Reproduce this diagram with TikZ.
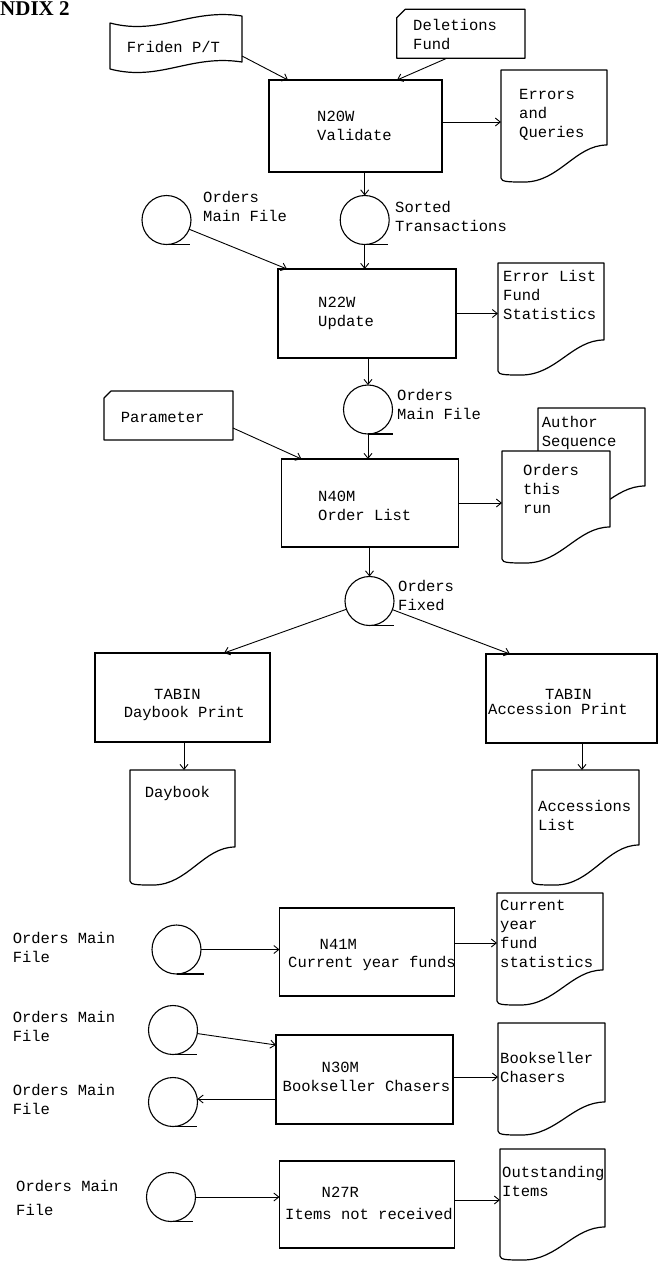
\documentclass[tikz,border=0pt]{standalone}
\usepackage{fontspec}
\newfontfamily\dotfont{Liberation Mono}
\newfontfamily\headfont{Liberation Serif}
\usetikzlibrary{arrows.meta,calc}

\tikzset{
  outline/.style={line width=1.2pt, line join=round},
  procbox/.style={draw, rectangle, line width=1.2pt, inner sep=0pt, outer sep=0pt},
  area/.style={rectangle, inner sep=0pt, outer sep=0pt},
  reel/.style={draw, circle, line width=1.1pt, minimum size=49pt, inner sep=0pt, outer sep=0pt},
  flow/.style={line width=0.9pt, -{Straight Barb[length=5pt,width=8pt]}},
  % multi-line labels are anchored at the baseline of their last line
  lbl/.style={font=\dotfont\fontsize{15.5}{19}\selectfont, align=left, anchor=base west, inner sep=0pt},
}

% tape reel: circle plus the short tangent at the bottom
\newcommand\reeltail[2]{\draw[outline] (#1.south) -- ++(#2,0);}
% printed document: name, width, rise of the lower right corner
\newcommand\docshape[3]{%
  \draw[outline, fill=white] ($(#1.south west)+(0,-4)$) -- (#1.north west) -- (#1.north east)
    -- ($(#1.south east)+(0,-#3)$)
    .. controls ($(#1.south east)+(-0.3*#2,-#3)$) and ($(#1.south west)+(0.55*#2,0)$)
    .. ($(#1.south west)+(0.22*#2,0)$)
    .. controls ($(#1.south west)+(0.08*#2,0)$) and (#1.south west) .. cycle;}
% punched card: name, size of the cut corner
\newcommand\cardshape[2]{%
  \draw[outline] ($(#1.north west)+(0,#2)$) -- ($(#1.north west)+(#2,0)$) -- (#1.north east)
    -- (#1.south east) -- (#1.south west) -- cycle;}

\begin{document}
\begin{tikzpicture}[x=1pt,y=-1pt]
\useasboundingbox (0,0) rectangle (659,1262);

\node[font=\headfont\bfseries\fontsize{21}{21}\selectfont, anchor=base west, inner sep=0pt] (head) at (0,15) {NDIX 2};

% ---------- inputs ----------
\node[area, minimum width=132pt, minimum height=54pt] (friden) at (176,43) {};
\draw[outline] ($(friden.north west)+(0,7)$)
   .. controls ($(friden.north west)+(50,20)$) and ($(friden.north west)+(80,-8)$) .. (friden.north east)
   -- ($(friden.south east)+(0,-8)$)
   .. controls ($(friden.south east)+(-52,-16)$) and ($(friden.south east)+(-82,12)$) .. ($(friden.south west)+(0,-1)$)
   -- cycle;
\node[lbl] (fridenT) at (126.7,52.5) {Friden P/T};

\node[area, minimum width=128.3pt, minimum height=49pt] (del) at (460.85,33.8) {};
\cardshape{del}{8.5}
\node[lbl] (delT) at (413,49.5) {Deletions\\Fund};

\node[area, minimum width=129pt, minimum height=49pt] (param) at (168.5,415.5) {};
\cardshape{param}{7}
\node[lbl] (paramT) at (120.6,422.5) {Parameter};

% ---------- processes ----------
\node[procbox, minimum width=173pt, minimum height=92pt] (val) at (355.5,126) {};
\node[lbl] (valT) at (317,140.5) {N20W\\Validate};
\node[procbox, minimum width=178pt, minimum height=89pt] (upd) at (367,313.5) {};
\node[lbl] (updT) at (318,326.5) {N22W\\Update};
\node[procbox, minimum width=177pt, minimum height=88pt] (olist) at (370,503) {};
\node[lbl] (olistT) at (318,520.5) {N40M\\Order List};
\node[procbox, minimum width=175pt, minimum height=89pt] (dayp) at (182.5,697.5) {};
\node[lbl] (daypA) at (154,699.5) {TABIN};
\node[lbl] (daypB) at (123.6,717.5) {Daybook Print};
\node[procbox, minimum width=171pt, minimum height=89pt] (accp) at (571.5,698.5) {};
\node[lbl] (accpA) at (545,699.5) {TABIN};
\node[lbl] (accpB) at (488,714.5) {Accession Print};
\node[procbox, minimum width=175pt, minimum height=88pt] (nfund) at (367,952) {};
\node[lbl] (nfundA) at (319.5,949.5) {N41M};
\node[lbl] (nfundB) at (288,967.5) {Current year funds};
\node[procbox, minimum width=177pt, minimum height=89pt] (nchase) at (364.5,1079.5) {};
\node[lbl] (nchaseA) at (321.5,1072.5) {N30M};
\node[lbl] (nchaseB) at (282.5,1091.5) {Bookseller Chasers};
\node[procbox, minimum width=175pt, minimum height=87pt] (nrecv) at (367,1204.5) {};
\node[lbl] (nrecvA) at (321.5,1197.5) {N27R};
\node[lbl] (nrecvB) at (285,1219.5) {Items not received};

% ---------- tape files ----------
\node[reel] (omfA) at (166.5,220) {};   \reeltail{omfA}{23}
\node[lbl] (omfAT) at (203,221.5) {Orders\\Main File};
\node[reel] (sorted) at (364.7,220) {};  \reeltail{sorted}{23}
\node[lbl] (sortedT) at (395,231.5) {Sorted\\Transactions};
\node[reel] (omfB) at (368,409.5) {};    \reeltail{omfB}{25}
\node[lbl] (omfBT) at (397,419.5) {Orders\\Main File};
\node[reel] (fixed) at (369.5,601) {};   \reeltail{fixed}{24}
\node[lbl] (fixedT) at (398,610.5) {Orders\\Fixed};
\node[reel] (omfC) at (176.5,949.5) {};  \reeltail{omfC}{27}
\node[lbl] (omfCT) at (12.6,962.5) {Orders Main\\File};
\node[reel] (omfD) at (173,1030) {};     \reeltail{omfD}{24}
\node[lbl] (omfDT) at (12.6,1041.5) {Orders Main\\File};
\node[reel] (omfE) at (173,1102) {};     \reeltail{omfE}{24}
\node[lbl] (omfET) at (12.6,1114.5) {Orders Main\\File};
\node[reel] (omfF) at (171,1197) {};     \reeltail{omfF}{22}
\node[lbl] (omfFT) at (16,1215.5) {Orders Main\\[5pt]File};

% ---------- printed output ----------
\node[area, minimum width=106pt, minimum height=112pt] (err) at (554,126) {};
\docshape{err}{106}{37}
\node[lbl] (errT) at (519,137.5) {Errors\\and\\Queries};
\node[area, minimum width=106pt, minimum height=112pt] (errlist) at (551,319) {};
\docshape{errlist}{106}{35}
\node[lbl] (errlistT) at (503,319.5) {Error List\\Fund\\Statistics};
\node[area, minimum width=107pt, minimum height=112pt] (author) at (591.5,464) {};
\docshape{author}{107}{34}
\node[lbl] (authorT) at (541.7,446.5) {Author\\Sequence};
\node[area, minimum width=108pt, minimum height=112pt] (ordrun) at (556,507) {};
\docshape{ordrun}{108}{36}
\node[lbl] (ordrunT) at (523,513) {Orders\\this\\run};
\node[area, minimum width=105pt, minimum height=115pt] (daybk) at (182.5,827.5) {};
\docshape{daybk}{105}{38}
\node[lbl] (daybkT) at (144.6,797.5) {Daybook};
\node[area, minimum width=107pt, minimum height=115pt] (accl) at (585.5,827.5) {};
\docshape{accl}{107}{40}
\node[lbl] (acclT) at (538,830) {Accessions\\List};
\node[area, minimum width=106pt, minimum height=112pt] (cyr) at (550,949) {};
\docshape{cyr}{106}{35}
\node[lbl] (cyrT) at (500,967.5) {Current\\year\\fund\\statistics};
\node[area, minimum width=107pt, minimum height=112pt] (bsel) at (551.5,1079) {};
\docshape{bsel}{107}{33}
\node[lbl] (bselT) at (500,1082.5) {Bookseller\\Chasers};
\node[area, minimum width=105pt, minimum height=111pt] (outst) at (552.5,1204.5) {};
\docshape{outst}{105}{33}
\node[lbl] (outstT) at (502,1196.5) {Outstanding\\Items};

% ---------- flow ----------
\draw[flow] ($(friden.south east)+(0,-14)$) -- ($(val.north west)+(19,0)$);
\draw[flow] ($(del.south west)+(50,0)$) -- ($(val.north west)+(128,0)$);
\draw[flow] ($(val.east)+(0,-4)$) coordinate (p) -- (p -| err.west);
\draw[flow] (sorted |- val.south) -- (sorted.north);

\draw[flow] (omfA) -- ($(upd.north west)+(9,0)$);
\draw[flow] (sorted.south) -- (sorted |- upd.north);
\draw[flow] (upd.east) -- (upd.east -| errlist.west);
\draw[flow] (omfB |- upd.south) -- (omfB.north);

\draw[flow] ($(param.south east)+(0,-12)$) -- ($(olist.north west)+(20,0)$);
\draw[flow] (omfB.south) -- (omfB |- olist.north);
\draw[flow] (olist.east) -- (olist.east -| ordrun.west);
\draw[flow] (fixed |- olist.south) -- (fixed.north);

\draw[flow] (fixed) -- ($(dayp.north west)+(129,0)$);
\draw[flow] (fixed) -- ($(accp.north west)+(24,0)$);
\draw[flow] ($(dayp.south west)+(89,0)$) coordinate (p) -- (p |- daybk.north);
\draw[flow] ($(accp.south west)+(96,0)$) coordinate (p) -- (p |- accl.north);

\draw[flow] (omfC) -- (omfC -| nfund.west);
\draw[flow] ($(nfund.east)+(0,-9)$) coordinate (p) -- (p -| cyr.west);

\draw[flow] (omfD) -- ($(nchase.north west)+(0,10)$);
\draw[flow] ($(nchase.west)+(0,19.5)$) coordinate (p) -- (p -| omfE.east);
\draw[flow] ($(nchase.east)+(0,-2.5)$) coordinate (p) -- (p -| bsel.west);

\draw[flow] (omfF) -- (omfF -| nrecv.west);
\draw[flow] ($(nrecv.east)+(0,-4.5)$) coordinate (p) -- (p -| outst.west);
\end{tikzpicture}
\end{document}
